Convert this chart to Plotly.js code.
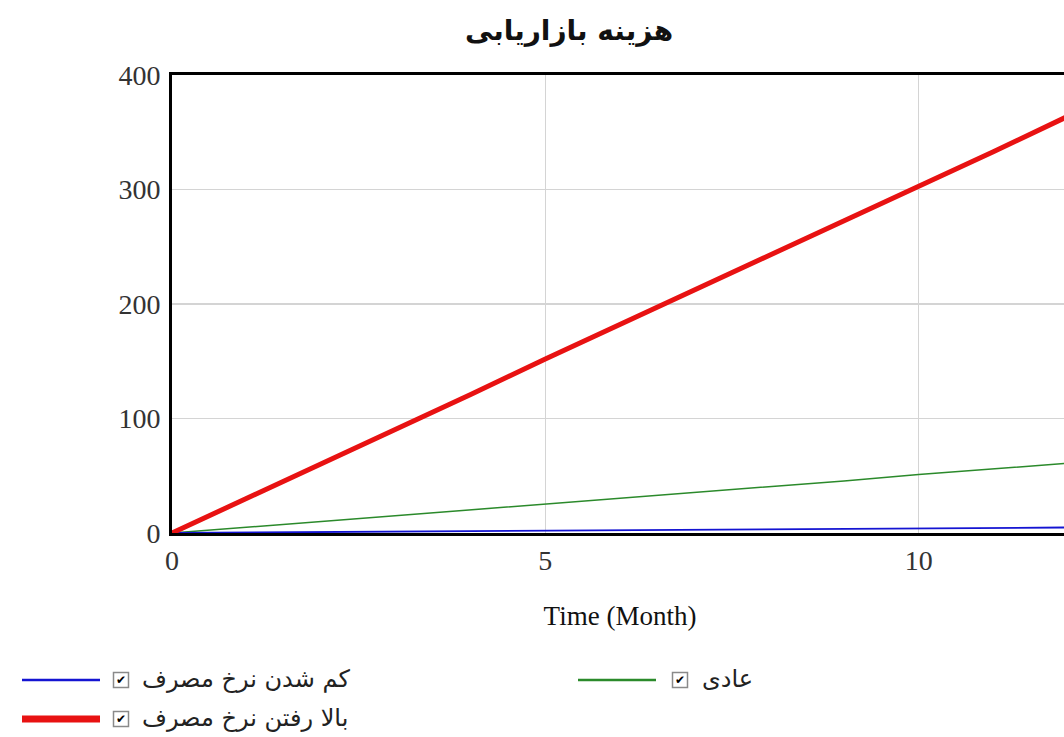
<!DOCTYPE html>
<html>
<head>
<meta charset="utf-8">
<script src="https://cdn.plot.ly/plotly-3.0.1.min.js"></script>
<style>
html,body{margin:0;padding:0;overflow:hidden;background:#fff;width:1064px;height:737px;}
#chart{width:1100px;height:737px;}
</style>
</head>
<body>
<div id="chart"></div>
<script>
// ---- data ----
var months = [0,1,2,3,4,5,6,7,8,9,10,11,12];
var seriesNormal = [0,5,10,15,20,25.5,30.5,35.5,40.5,45.5,51,56,61];   // عادی
var seriesDecrease = [0,0.4,0.8,1.2,1.6,2,2.4,2.8,3.2,3.6,4,4.4,4.8]; // کم شدن نرخ مصرف
var seriesIncrease = [0,30,61,91,121,152,182,212,243,273,303,333,364]; // بالا رفتن نرخ مصرف
var nameNormal = "عادی";
var nameDecrease = "کم شدن نرخ مصرف";
var nameIncrease = "بالا رفتن نرخ مصرف";
var chartTitle = "هزینه بازاریابی";
var xTitle = "Time (Month)";
var xTicks = [0,5,10];
var yTicks = [0,100,200,300,400];

// ---- layout geometry ----
var W = 1100, H = 737;
var mL = 172, mR = 32, mT = 75, mB = 204;
var pw = W - mL - mR, ph = H - mT - mB;
function px(x){ return (x - mL) / pw; }
function py(y){ return (H - mB - y) / ph; }

var colBlue = "#1414d2", colGreen = "#2b8a2b", colRed = "#e81212";
var arabicFont = "DejaVu Sans, Noto Sans, sans-serif";
var serifFont = "Liberation Serif, Times New Roman, serif";

var traces = [
  {x: months, y: seriesNormal, name: nameNormal, mode: "lines", line: {color: colGreen, width: 1.5}},
  {x: months, y: seriesDecrease, name: nameDecrease, mode: "lines", line: {color: colBlue, width: 1.8}},
  {x: months, y: seriesIncrease, name: nameIncrease, mode: "lines", line: {color: colRed, width: 5}}
];

var legendRows = [
  {name: nameDecrease, color: colBlue, width: 2.5, x0: 22, x1: 100, y: 680, box: 121, text: 140},
  {name: nameNormal, color: colGreen, width: 2.5, x0: 578, x1: 656, y: 680, box: 680, text: 700},
  {name: nameIncrease, color: colRed, width: 7, x0: 22, x1: 100, y: 719, box: 121, text: 140}
];

var shapes = [], annotations = [];
legendRows.forEach(function(r){
  shapes.push({type: "line", xref: "paper", yref: "paper", x0: px(r.x0), x1: px(r.x1), y0: py(r.y), y1: py(r.y),
    line: {color: r.color, width: r.width}});
  shapes.push({type: "rect", xref: "paper", yref: "paper", x0: px(r.box - 7.5), x1: px(r.box + 7.5), y0: py(r.y - 7.5), y1: py(r.y + 7.5),
    line: {color: "#8a8a8a", width: 1.5}, fillcolor: "#fff"});
  annotations.push({xref: "paper", yref: "paper", x: px(r.box), y: py(r.y), text: "<b>✔</b>", showarrow: false,
    xanchor: "center", yanchor: "middle", font: {family: "DejaVu Sans", size: 12, color: "#000"}});
  annotations.push({xref: "paper", yref: "paper", x: px(r.text), y: py(r.y - 1), text: r.name, showarrow: false,
    xanchor: "left", yanchor: "middle", font: {family: arabicFont, size: 24, color: "#222"}});
});

var layout = {
  width: W, height: H,
  margin: {l: mL, r: mR, t: mT, b: mB, pad: 0},
  paper_bgcolor: "#fff", plot_bgcolor: "#fff",
  showlegend: false,
  title: {text: "<b>" + chartTitle + "</b>", xref: "container", yref: "container", x: 569 / W, xanchor: "center",
    y: 1 - 30 / H, yanchor: "middle", font: {family: arabicFont, size: 28, color: "#111"}},
  xaxis: {range: [0, 12], tickvals: xTicks, ticktext: xTicks.map(String), showgrid: true, gridcolor: "#d4d4d4", gridwidth: 1.5,
    zeroline: false, showline: true, linecolor: "#000", linewidth: 3, mirror: true, ticks: "", ticklabelstandoff: 0,
    tickfont: {family: serifFont, size: 28, color: "#333"},
    title: {text: xTitle, standoff: 32, font: {family: serifFont, size: 27, color: "#111"}}},
  yaxis: {range: [0, 400], tickvals: yTicks, ticktext: yTicks.map(String), showgrid: true, gridcolor: "#d4d4d4", gridwidth: 1.5,
    zeroline: false, showline: true, linecolor: "#000", linewidth: 3, mirror: false, ticks: "", ticklabelstandoff: 3,
    tickfont: {family: serifFont, size: 28, color: "#333"}},
  shapes: shapes,
  annotations: annotations
};

Plotly.newPlot("chart", traces, layout, {displayModeBar: false, staticPlot: true});
</script>
</body>
</html>
